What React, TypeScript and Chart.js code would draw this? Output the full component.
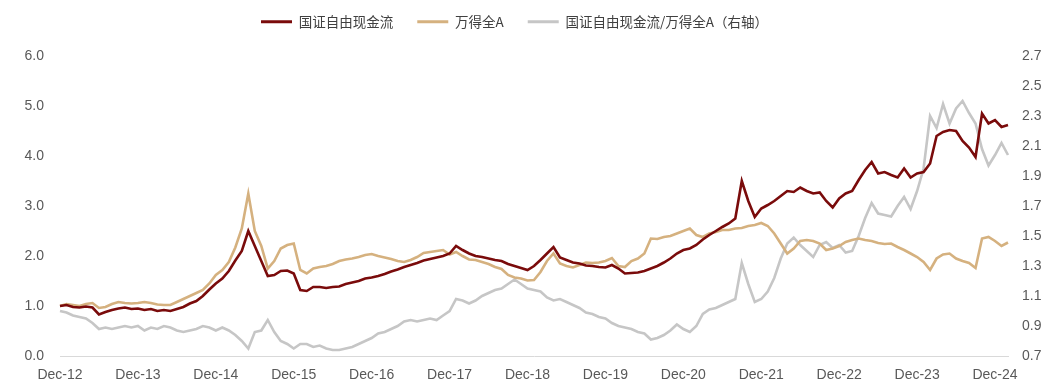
import React, { useEffect, useRef } from "react";
import { Chart, registerables } from "chart.js";
Chart.register(...registerables);

const MONTHS = ["Jan", "Feb", "Mar", "Apr", "May", "Jun", "Jul", "Aug", "Sep", "Oct", "Nov", "Dec"];
// Monthly categories from Dec-12 to Feb-25
const categories: string[] = [];
for (let i = 0; i < 147; i++) {
  const m = (11 + i) % 12;
  const y = 12 + Math.floor((11 + i) / 12);
  categories.push(`${MONTHS[m]}-${y}`);
}

const xTickLabels = ["Dec-12", "Dec-13", "Dec-14", "Dec-15", "Dec-16", "Dec-17", "Dec-18", "Dec-19", "Dec-20", "Dec-21", "Dec-22", "Dec-23", "Dec-24"];
const seriesNames = ["国证自由现金流", "万得全A", "国证自由现金流/万得全A（右轴）"];

// 国证自由现金流 (left axis)
const freeCashFlow = [
  1.00,
  1.02, 0.98, 0.97, 0.99, 0.97, 0.83, 0.88, 0.92, 0.95, 0.97, 0.94, 0.95,
  0.92, 0.94, 0.90, 0.92, 0.90, 0.94, 0.98, 1.05, 1.10, 1.20, 1.33, 1.45,
  1.55, 1.70, 1.91, 2.10, 2.50, 2.20, 1.90, 1.60, 1.62, 1.70, 1.71, 1.65,
  1.32, 1.30, 1.38, 1.38, 1.36, 1.38, 1.39, 1.44, 1.47, 1.50, 1.55, 1.57,
  1.60, 1.64, 1.69, 1.73, 1.78, 1.82, 1.86, 1.91, 1.94, 1.97, 2.00, 2.05,
  2.20, 2.12, 2.05, 2.00, 1.98, 1.95, 1.92, 1.90, 1.84, 1.80, 1.76, 1.72,
  1.80, 1.92, 2.05, 2.18, 1.97, 1.92, 1.87, 1.85, 1.81, 1.80, 1.78, 1.77,
  1.82, 1.75, 1.65, 1.66, 1.67, 1.70, 1.75, 1.80, 1.87, 1.95, 2.05, 2.12,
  2.15, 2.22, 2.33, 2.42, 2.50, 2.58, 2.65, 2.75, 3.50, 3.10, 2.78, 2.95,
  3.02, 3.10, 3.20, 3.30, 3.28, 3.37, 3.30, 3.25, 3.27, 3.10, 2.97, 3.15,
  3.25, 3.30, 3.52, 3.72, 3.88, 3.65, 3.68, 3.62, 3.57, 3.75, 3.57, 3.65,
  3.68, 3.85, 4.40, 4.48, 4.52, 4.50, 4.30, 4.17, 3.98, 4.85, 4.65, 4.72,
  4.58, 4.62,
];

// 万得全A (left axis)
const windAllA = [
  1.00,
  1.04, 1.02, 1.00, 1.04, 1.06, 0.96, 0.98, 1.04, 1.08, 1.06, 1.05, 1.06,
  1.08, 1.06, 1.03, 1.02, 1.02, 1.08, 1.14, 1.20, 1.26, 1.32, 1.45, 1.62,
  1.72, 1.88, 2.17, 2.55, 3.25, 2.50, 2.20, 1.75, 1.90, 2.15, 2.22, 2.25,
  1.72, 1.65, 1.75, 1.78, 1.80, 1.84, 1.90, 1.93, 1.95, 1.98, 2.02, 2.04,
  2.00, 1.97, 1.94, 1.90, 1.88, 1.92, 1.98, 2.06, 2.08, 2.10, 2.12, 2.03,
  2.08, 2.00, 1.93, 1.92, 1.88, 1.84, 1.78, 1.74, 1.62, 1.57, 1.55, 1.51,
  1.52, 1.68, 1.90, 2.05, 1.85, 1.80, 1.77, 1.82, 1.87, 1.86, 1.87, 1.90,
  1.96, 1.80, 1.78, 1.90, 1.95, 2.05, 2.35, 2.34, 2.38, 2.40, 2.45, 2.50,
  2.55, 2.42, 2.38, 2.45, 2.48, 2.52, 2.52, 2.55, 2.56, 2.60, 2.62, 2.66,
  2.60, 2.45, 2.25, 2.05, 2.15, 2.30, 2.32, 2.30, 2.25, 2.12, 2.15, 2.20,
  2.28, 2.32, 2.35, 2.32, 2.30, 2.26, 2.24, 2.25, 2.18, 2.12, 2.05, 1.98,
  1.88, 1.72, 1.95, 2.03, 2.05, 1.95, 1.90, 1.86, 1.76, 2.35, 2.38, 2.30,
  2.20, 2.27,
];

// 国证自由现金流/万得全A (right axis)
const ratio = [
  1.00,
  0.99, 0.97, 0.96, 0.95, 0.92, 0.88, 0.89, 0.88, 0.89, 0.90, 0.89, 0.90,
  0.87, 0.89, 0.88, 0.90, 0.89, 0.87, 0.86, 0.87, 0.88, 0.90, 0.89, 0.87,
  0.89, 0.87, 0.84, 0.80, 0.75, 0.86, 0.87, 0.94, 0.86, 0.80, 0.78, 0.75,
  0.78, 0.78, 0.76, 0.77, 0.75, 0.74, 0.74, 0.75, 0.76, 0.78, 0.80, 0.82,
  0.85, 0.86, 0.88, 0.90, 0.93, 0.94, 0.93, 0.94, 0.95, 0.94, 0.97, 1.00,
  1.08, 1.07, 1.05, 1.07, 1.10, 1.12, 1.14, 1.15, 1.18, 1.21, 1.18, 1.15,
  1.14, 1.13, 1.09, 1.07, 1.08, 1.06, 1.04, 1.02, 0.99, 0.98, 0.96, 0.95,
  0.92, 0.90, 0.89, 0.88, 0.86, 0.85, 0.81, 0.82, 0.84, 0.87, 0.91, 0.88,
  0.86, 0.90, 0.98, 1.01, 1.02, 1.04, 1.06, 1.08, 1.32, 1.18, 1.06, 1.08,
  1.13, 1.22, 1.35, 1.45, 1.49, 1.44, 1.40, 1.36, 1.44, 1.46, 1.42, 1.44,
  1.39, 1.40, 1.50, 1.62, 1.72, 1.65, 1.64, 1.63, 1.70, 1.76, 1.68, 1.80,
  1.95, 2.30, 2.22, 2.38, 2.25, 2.35, 2.40, 2.32, 2.25, 2.08, 1.97, 2.04,
  2.12, 2.04,
];

const COLORS = ["#7a0b0b", "#d5b17f", "#c6c6c6"];
const TICK_FONT = { family: "'Liberation Sans', Arial, sans-serif", size: 14 };
const TICK_COLOR = "#595959";

export default function App() {
  const ref = useRef<HTMLCanvasElement>(null);

  useEffect(() => {
    if (!ref.current) return;
    const legendTweak = {
      id: "legendTweak",
      beforeInit(chart: any) {
        const lg = chart.legend;
        const fit = lg.fit;
        lg.fit = function () {
          fit.call(lg);
          lg.height = 65;
        };
        const draw = lg.draw;
        lg.draw = function (...args: any[]) {
          const r = lg.right;
          lg.right = r - 30;
          draw.apply(lg, args);
          lg.right = r;
        };
      },
    };

    const chart = new Chart(ref.current, {
      type: "line",
      data: {
        labels: categories,
        datasets: [
          {
            label: seriesNames[0],
            data: freeCashFlow,
            borderColor: COLORS[0],
            backgroundColor: COLORS[0],
            borderWidth: 2.6,
            pointRadius: 0,
            tension: 0,
            yAxisID: "y",
          },
          {
            label: seriesNames[1],
            data: windAllA,
            borderColor: COLORS[1],
            backgroundColor: COLORS[1],
            borderWidth: 2.6,
            pointRadius: 0,
            tension: 0,
            yAxisID: "y",
          },
          {
            label: seriesNames[2],
            data: ratio,
            borderColor: COLORS[2],
            backgroundColor: COLORS[2],
            borderWidth: 2.6,
            pointRadius: 0,
            tension: 0,
            yAxisID: "y1",
          },
        ],
      },
      options: {
        animation: false,
        responsive: true,
        maintainAspectRatio: false,
        layout: { padding: { top: -9, right: 0, left: 0, bottom: 0 } },
        plugins: {
          tooltip: { enabled: false },
          legend: {
            position: "top",
            labels: {
              boxWidth: 31,
              boxHeight: 3,
              padding: 24,
              color: "#404040",
              font: { family: "'Noto Sans CJK SC', sans-serif", size: 13.5 },
              generateLabels: (c: any) =>
                (Chart.defaults.plugins.legend.labels as any)
                  .generateLabels(c)
                  .map((l: any) => ({ ...l, lineWidth: 0 })),
            },
          },
        },
        scales: {
          x: {
            type: "category",
            grid: { display: false, drawTicks: false },
            border: { display: true, color: "#d9d9d9", width: 1 },
            ticks: {
              autoSkip: false,
              maxRotation: 0,
              minRotation: 0,
              padding: 11,
              color: TICK_COLOR,
              font: TICK_FONT,
              callback: (_v: any, i: number) =>
                xTickLabels.includes(categories[i]) ? categories[i] : null,
            },
            afterFit: (s: any) => {
              s.height = 34;
            },
          },
          y: {
            position: "left",
            min: 0,
            max: 6,
            grid: { display: false, drawTicks: false },
            border: { display: false },
            ticks: {
              stepSize: 1,
              padding: 16,
              color: TICK_COLOR,
              font: TICK_FONT,
              callback: (v: any) => Number(v).toFixed(1),
            },
            afterFit: (s: any) => {
              s.width = 60;
            },
          },
          y1: {
            position: "right",
            min: 0.7,
            max: 2.7,
            grid: { display: false, drawTicks: false },
            border: { display: false },
            ticks: {
              stepSize: 0.2,
              padding: 14,
              color: TICK_COLOR,
              font: TICK_FONT,
              callback: (v: any) => Number(v).toFixed(1),
            },
            afterFit: (s: any) => {
              s.width = 51;
            },
          },
        },
      },
      plugins: [legendTweak],
    } as any);

    return () => chart.destroy();
  }, []);

  return (
    <div style={{ position: "fixed", left: 0, top: 0, width: 1059, height: 390, background: "#ffffff" }}>
      <canvas ref={ref} />
    </div>
  );
}
